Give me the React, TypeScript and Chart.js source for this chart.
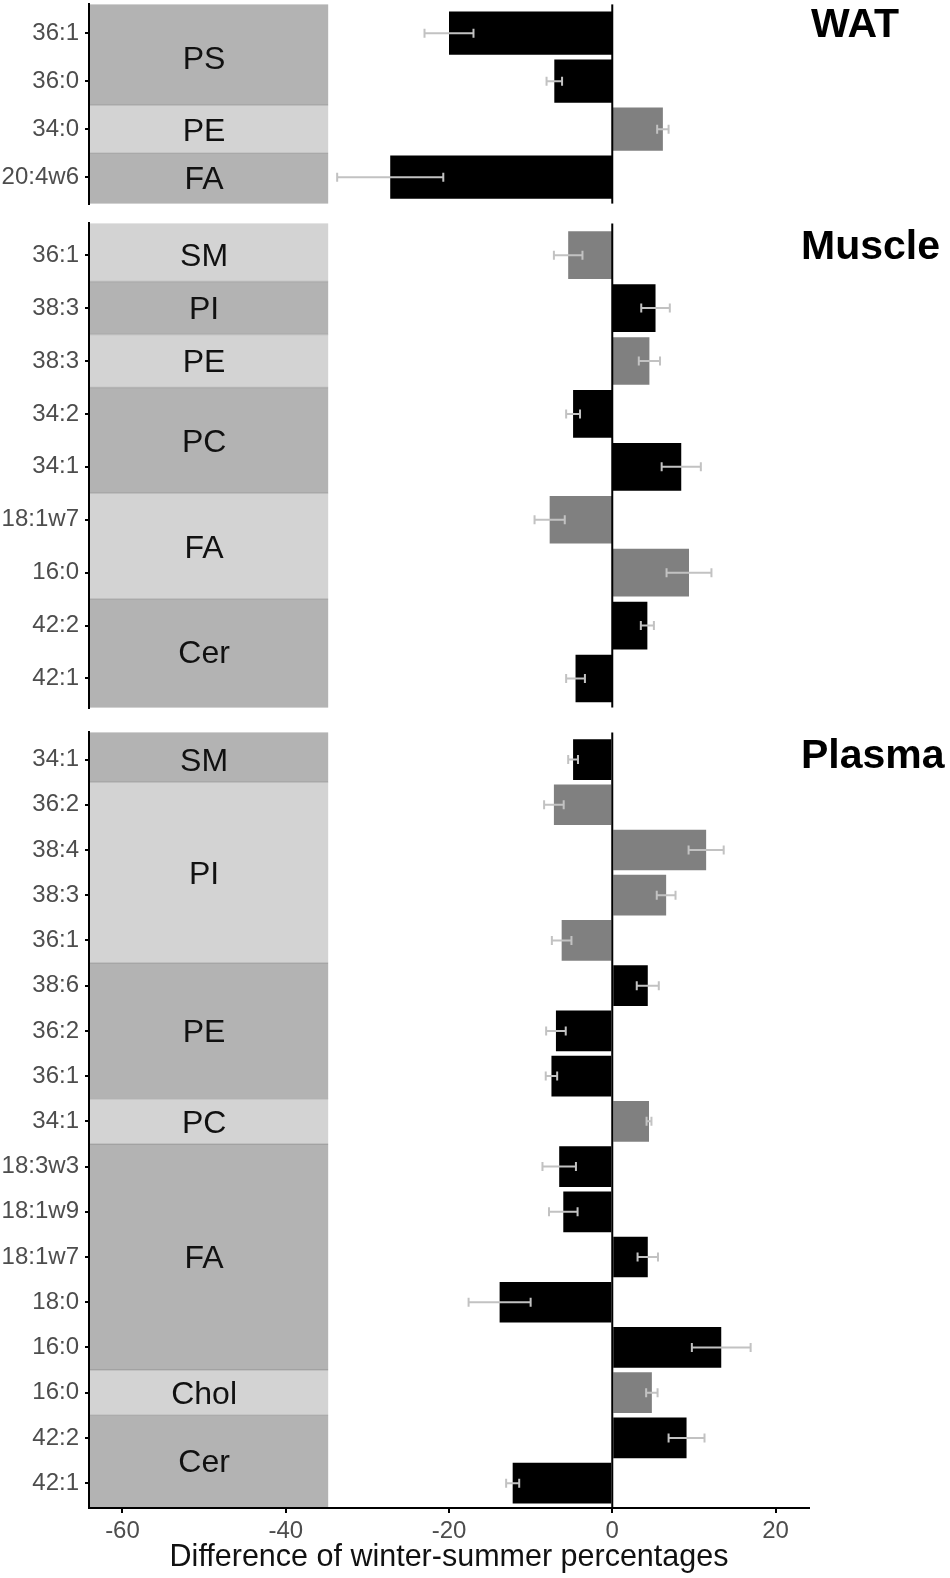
import React, { useEffect, useRef } from 'react';
import { Chart, registerables } from 'chart.js';

Chart.register(...registerables);

const FONT = '"Liberation Sans", Arial, Helvetica, sans-serif';

// ---- shared axis ----
const X_MIN = -64.1;
const X_MAX = 24.1;
const X_TICKS = [-60, -40, -20, 0, 20];
const X_TITLE = 'Difference of winter-summer percentages';
const BAND_END = -34.8;
const BAND_LABEL_X = -50;

// ---- WAT ----
const WAT_LABELS = ['36:1', '36:0', '34:0', '20:4w6'];
const WAT_CLASSES = ['PS', 'PS', 'PE', 'FA'];
const WAT_VALUES = [-20.0, -7.1, 6.2, -27.2];
const WAT_ERRORS = [3.0, 0.95, 0.7, 6.5];

// ---- Muscle ----
const MUSCLE_LABELS = ['36:1', '38:3', '38:3', '34:2', '34:1', '18:1w7', '16:0', '42:2', '42:1'];
const MUSCLE_CLASSES = ['SM', 'PI', 'PE', 'PC', 'PC', 'FA', 'FA', 'Cer', 'Cer'];
const MUSCLE_VALUES = [-5.4, 5.3, 4.55, -4.8, 8.45, -7.67, 9.4, 4.3, -4.5];
const MUSCLE_ERRORS = [1.75, 1.75, 1.3, 0.85, 2.4, 1.85, 2.75, 0.8, 1.15];

// ---- Plasma ----
const PLASMA_LABELS = ['34:1', '36:2', '38:4', '38:3', '36:1', '38:6', '36:2', '36:1', '34:1', '18:3w3', '18:1w9', '18:1w7', '18:0', '16:0', '16:0', '42:2', '42:1'];
const PLASMA_CLASSES = ['SM', 'PI', 'PI', 'PI', 'PI', 'PE', 'PE', 'PE', 'PC', 'FA', 'FA', 'FA', 'FA', 'FA', 'Chol', 'Cer', 'Cer'];
const PLASMA_VALUES = [-4.8, -7.15, 11.5, 6.6, -6.2, 4.35, -6.9, -7.45, 4.5, -6.5, -6.0, 4.35, -13.8, 13.35, 4.85, 9.1, -12.2];
const PLASMA_ERRORS = [0.6, 1.2, 2.15, 1.15, 1.2, 1.35, 1.2, 0.7, 0.3, 2.05, 1.75, 1.25, 3.8, 3.6, 0.7, 2.2, 0.8];

const DARK_BAND = '#b3b3b3';
const LIGHT_BAND = '#d3d3d3';
const DARK_BAR = '#000000';
const LIGHT_BAR = '#808080';

type Group = { name: string; start: number; end: number; dark: boolean };

function makeGroups(classes: string[]): Group[] {
  const groups: Group[] = [];
  classes.forEach((c, i) => {
    const g = groups[groups.length - 1];
    if (g && g.name === c) g.end = i;
    else groups.push({ name: c, start: i, end: i, dark: false });
  });
  groups.forEach((g, gi) => {
    g.dark = (groups.length - 1 - gi) % 2 === 0;
  });
  return groups;
}

const bandsPlugin = {
  id: 'bands',
  beforeDraw(chart: any, _args: any, opts: any) {
    const { ctx, chartArea } = chart;
    const xs = chart.scales.x;
    const ys = chart.scales.y;
    const groups: Group[] = opts.groups;
    const n: number = opts.n;
    const left = chartArea.left;
    const right = xs.getPixelForValue(BAND_END);
    ctx.save();
    groups.forEach((g) => {
      const y0 = g.start === 0 ? chartArea.top : ys.getPixelForValue(g.start - 0.5);
      const y1 = g.end === n - 1 ? chartArea.bottom : ys.getPixelForValue(g.end + 0.5);
      ctx.fillStyle = g.dark ? DARK_BAND : LIGHT_BAND;
      ctx.fillRect(left, y0, right - left, y1 - y0);
    });
    // separators
    ctx.strokeStyle = 'rgba(0,0,0,0.12)';
    ctx.lineWidth = 1.5;
    groups.forEach((g) => {
      if (g.start === 0) return;
      const y = ys.getPixelForValue(g.start - 0.5);
      ctx.beginPath();
      ctx.moveTo(left, y);
      ctx.lineTo(right, y);
      ctx.stroke();
    });
    ctx.fillStyle = '#111';
    ctx.font = `32px ${FONT}`;
    ctx.textAlign = 'center';
    ctx.textBaseline = 'middle';
    const lx = xs.getPixelForValue(BAND_LABEL_X);
    groups.forEach((g) => {
      const yc = (ys.getPixelForValue(g.start) + ys.getPixelForValue(g.end)) / 2 + 2.5;
      ctx.fillText(g.name, lx, yc);
    });
    ctx.restore();
  },
};

const errorPlugin = {
  id: 'errbars',
  afterDatasetsDraw(chart: any, _args: any, opts: any) {
    const { ctx, chartArea } = chart;
    const xs = chart.scales.x;
    const ys = chart.scales.y;
    ctx.save();
    // zero line
    const x0 = xs.getPixelForValue(0);
    ctx.strokeStyle = '#000';
    ctx.lineWidth = 2;
    ctx.beginPath();
    ctx.moveTo(x0, chartArea.top);
    ctx.lineTo(x0, chartArea.bottom);
    ctx.stroke();
    // error bars
    const values: number[] = opts.values;
    const errors: number[] = opts.errors;
    ctx.strokeStyle = '#c2c2c2';
    ctx.lineWidth = 2;
    values.forEach((v, i) => {
      const y = ys.getPixelForValue(i);
      const a = xs.getPixelForValue(v - errors[i]);
      const b = xs.getPixelForValue(v + errors[i]);
      ctx.beginPath();
      ctx.moveTo(a, y);
      ctx.lineTo(b, y);
      ctx.moveTo(a, y - 4.5);
      ctx.lineTo(a, y + 4.5);
      ctx.moveTo(b, y - 4.5);
      ctx.lineTo(b, y + 4.5);
      ctx.stroke();
    });
    ctx.restore();
  },
};

const PAD = 20;
const CANVAS_W = 950;
const PLOT_LEFT = 89;
const PLOT_RIGHT = 809;
const PAGE_H = 1578;

type PanelProps = {
  labels: string[];
  classes: string[];
  values: number[];
  errors: number[];
  top: number;
  bottom: number;
  showX: boolean;
};

function Panel({ labels, classes, values, errors, top, bottom, showX }: PanelProps) {
  const ref = useRef<HTMLCanvasElement | null>(null);
  const canvasTop = top - PAD;
  const canvasH = showX ? PAGE_H - canvasTop : bottom - top + 2 * PAD;

  useEffect(() => {
    if (!ref.current) return;
    const groups = makeGroups(classes);
    const rowDark: boolean[] = [];
    groups.forEach((g) => {
      for (let i = g.start; i <= g.end; i++) rowDark[i] = g.dark;
    });
    const n = labels.length;
    const tickFont = { size: 24, family: FONT };
    const chart = new Chart(ref.current, {
      type: 'bar',
      data: {
        datasets: [
          {
            data: values.map((v, i) => ({ x: v, y: i })) as any,
            backgroundColor: rowDark.map((d) => (d ? DARK_BAR : LIGHT_BAR)),
            borderWidth: 0,
            barPercentage: 0.9,
            categoryPercentage: 1,
          },
        ],
      },
      options: {
        indexAxis: 'y',
        responsive: false,
        animation: false,
        layout: {
          padding: { top: PAD, bottom: showX ? 0 : PAD, left: 0, right: CANVAS_W - PLOT_RIGHT },
        },
        plugins: {
          legend: { display: false },
          tooltip: { enabled: false },
          bands: { groups, n },
          errbars: { values, errors },
        } as any,
        scales: {
          x: {
            type: 'linear',
            min: X_MIN,
            max: X_MAX,
            display: showX,
            offset: false,
            afterBuildTicks: (s: any) => {
              s.ticks = X_TICKS.map((v) => ({ value: v }));
            },
            afterFit: (s: any) => {
              if (showX) s.height = PAGE_H - bottom;
            },
            grid: { display: true, drawOnChartArea: false, drawTicks: true, tickLength: 5, color: '#000', lineWidth: 2, offset: false },
            border: { display: true, color: '#000', width: 2 },
            ticks: { color: '#4d4d4d', font: tickFont, padding: 4, autoSkip: false, maxRotation: 0 },
            title: {
              display: true,
              text: X_TITLE,
              color: '#111',
              font: { size: 30.5, family: FONT },
              padding: { top: 0, bottom: 2 },
            },
          },
          y: {
            type: 'linear',
            reverse: true,
            min: -0.6,
            max: n - 1 + 0.55,
            offset: false,
            afterBuildTicks: (s: any) => {
              s.ticks = labels.map((_, i) => ({ value: i }));
            },
            afterFit: (s: any) => {
              s.width = PLOT_LEFT;
            },
            grid: { display: true, drawOnChartArea: false, drawTicks: true, tickLength: 4, color: '#000', lineWidth: 2, offset: false },
            border: { display: true, color: '#000', width: 2 },
            ticks: {
              color: '#4d4d4d',
              font: tickFont,
              padding: 6,
              autoSkip: false,
              callback: (v: any) => labels[v as number] ?? '',
            },
          },
        } as any,
      },
      plugins: [bandsPlugin as any, errorPlugin as any],
    });
    return () => chart.destroy();
  }, []);

  return (
    <canvas
      ref={ref}
      width={CANVAS_W}
      height={canvasH}
      style={{ position: 'absolute', left: 0, top: canvasTop, width: CANVAS_W, height: canvasH }}
    />
  );
}

const titleStyle: React.CSSProperties = {
  position: 'absolute',
  font: `bold 41px ${FONT}`,
  lineHeight: '41px',
  color: '#000',
  whiteSpace: 'nowrap',
};

export default function App() {
  return (
    <div
      style={{
        position: 'absolute',
        left: 0,
        top: 0,
        width: CANVAS_W,
        height: PAGE_H,
        overflow: 'hidden',
        background: '#fff',
      }}
    >
      <Panel labels={WAT_LABELS} classes={WAT_CLASSES} values={WAT_VALUES} errors={WAT_ERRORS} top={4} bottom={204} showX={false} />
      <Panel labels={MUSCLE_LABELS} classes={MUSCLE_CLASSES} values={MUSCLE_VALUES} errors={MUSCLE_ERRORS} top={223} bottom={708} showX={false} />
      <Panel labels={PLASMA_LABELS} classes={PLASMA_CLASSES} values={PLASMA_VALUES} errors={PLASMA_ERRORS} top={732} bottom={1508} showX={true} />
      <div style={{ ...titleStyle, left: 811, top: 3 }}>WAT</div>
      <div style={{ ...titleStyle, left: 801, top: 225 }}>Muscle</div>
      <div style={{ ...titleStyle, left: 801, top: 734 }}>Plasma</div>
    </div>
  );
}
